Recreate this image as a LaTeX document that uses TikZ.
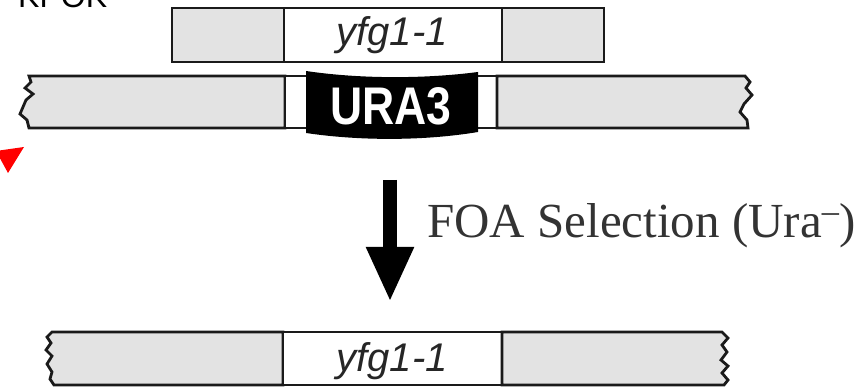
\documentclass[tikz,border=0pt]{standalone}
\usepackage{fontspec}
\setmainfont{Liberation Serif}
\setsansfont{Liberation Sans}
\usetikzlibrary{arrows.meta}
\definecolor{segfill}{HTML}{E3E3E3}
\definecolor{outl}{HTML}{1A1A1A}
\tikzset{
  seg/.style={draw=outl, line width=2.8pt, fill=segfill, line join=miter},
  wseg/.style={draw=outl, line width=2.8pt, fill=white},
  genelabel/.style={font=\sffamily\itshape\fontsize{40}{40}\selectfont, text=black!85, inner sep=0pt},
  bigarrow/.style={line width=14pt, -{Triangle[width=44pt,length=55pt]}},
}
\begin{document}
\begin{tikzpicture}[x=1pt,y=-1pt]
\useasboundingbox (0,0) rectangle (867,387);
\clip (0,0) rectangle (867,387);

% partially visible heading
\node[anchor=base west, inner sep=0pt, font=\sffamily\fontsize{32}{32}\selectfont] (kpok) at (18,8) {KPOK};

% red arrowhead
\fill[red] (24,147) -- (-4,151) -- (8,173) -- cycle;

% ---- Row 1: fragment ----
\path[seg]  (172,8) rectangle (284,62);
\path[wseg] (284,8) rectangle (502,62);
\path[seg]  (502,8) rectangle (604,62);
\node[genelabel] (yfgtop) at (392,35) {yfg1-1};

% ---- Row 2: chromosome with URA3 ----
\path[seg] (29,76) -- (285,76) -- (285,128) -- (29,128) -- (27,120) -- (20,114) -- (26,100) -- (33,94) -- (25,88) -- (31,82) -- cycle;
\path[wseg] (285,76) rectangle (307,128);
\path[wseg] (477,76) rectangle (497,128);
\path[seg] (497,76) -- (745,76) -- (750,82) -- (746,88) -- (752,95) -- (744,104) -- (740,112) -- (747,120) -- (748,128) -- (497,128) -- cycle;
\fill[black] (306,71) .. controls (360,79) and (424,79) .. (478,72) -- (478,132) .. controls (424,141) and (360,141) .. (306,133) -- cycle;
\node[inner sep=0pt, text=white, font=\sffamily\bfseries\fontsize{53}{53}\selectfont, xscale=0.84] (ura) at (391,106) {URA3};
\coordinate (arrowtop) at (390,180);

% ---- Row 3: chromosome after selection ----
\path[seg] (52,332) -- (283,332) -- (283,385) -- (54,385) -- (50,379) -- (52,372) -- (47,364) -- (52,356) -- (46,350) -- (51,343) -- (47,337) -- cycle;
\path[wseg] (283,332) rectangle (502,385);
\path[seg] (502,332) -- (722,332) -- (728,338) -- (722,345) -- (727,352) -- (721,360) -- (728,366) -- (722,373) -- (728,380) -- (724,385) -- (502,385) -- cycle;
\node[genelabel] (yfgbot) at (392,361) {yfg1-1};
\coordinate (arrowtip) at (390,302);

% ---- arrow and label ----
\draw[bigarrow] (arrowtop) -- (arrowtip);
\node[anchor=base west, inner sep=0pt, text=black!80, font=\fontsize{49}{49}\selectfont] (foa) at (427,238) {FOA Selection (Ura\raisebox{6pt}{\textsuperscript{\textendash}})};
\end{tikzpicture}
\end{document}
